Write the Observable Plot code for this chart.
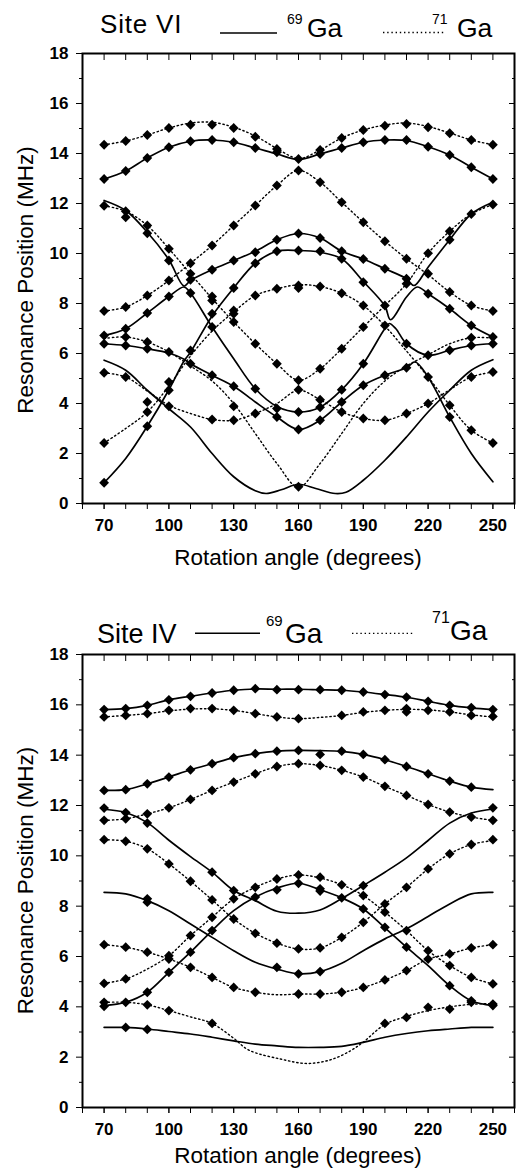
<!DOCTYPE html>
<html><head><meta charset="utf-8">
<script src="https://cdn.jsdelivr.net/npm/d3@7"></script>
<script src="https://cdn.jsdelivr.net/npm/@observablehq/plot@0.6"></script>
<style>
body{margin:0;background:#fff;}
#page{position:relative;width:516px;height:1176px;overflow:hidden;background:#fff;}
.panel{position:absolute;left:0;}
#overlay{position:absolute;left:0;top:0;}
</style></head><body><div id="page">
<div id="p1" class="panel" style="top:0px"></div>
<div id="p2" class="panel" style="top:600px"></div>
<svg id="overlay" width="516" height="1176" font-family="Liberation Sans, Arial, Helvetica, sans-serif" fill="black">
  <text x="100" y="33.3" font-size="26" letter-spacing="0.8">Site VI</text>
  <line x1="220" x2="277" y1="33" y2="33" stroke="black" stroke-width="1.6"/>
  <text x="287" y="24" font-size="14">69</text>
  <text x="307" y="37" font-size="26.5">Ga</text>
  <line x1="383" x2="445" y1="32.5" y2="32.5" stroke="black" stroke-width="1.3" stroke-dasharray="1.4,2.8"/>
  <text x="432" y="23.5" font-size="14">71</text>
  <text x="457" y="37" font-size="26.5">Ga</text>
  <text x="298" y="565" text-anchor="middle" font-size="22.5">Rotation angle (degrees)</text>
  <text transform="translate(33.3,280) rotate(-90)" text-anchor="middle" font-size="22.5">Resonance Position (MHz)</text>

  <text x="97" y="642.7" font-size="27">Site IV</text>
  <line x1="195" x2="260" y1="633.3" y2="633.3" stroke="black" stroke-width="1.6"/>
  <text x="266" y="626" font-size="15">69</text>
  <text x="285" y="643.3" font-size="28">Ga</text>
  <line x1="352" x2="413" y1="633.3" y2="633.3" stroke="black" stroke-width="1.3" stroke-dasharray="1.4,2.8"/>
  <text x="432" y="623.3" font-size="16">71</text>
  <text x="450" y="640" font-size="28">Ga</text>
  <text x="298" y="1162.7" text-anchor="middle" font-size="22.5">Rotation angle (degrees)</text>
  <text transform="translate(33.3,880.5) rotate(-90)" text-anchor="middle" font-size="22.5">Resonance Position (MHz)</text>
</svg>
</div>
<script>
// ---------- axis ticks ----------
const xMajor = [70, 100, 130, 160, 190, 220, 250];
const xMinor = [60, 70, 80, 90, 100, 110, 120, 130, 140, 150, 160, 170, 180, 190, 200, 210, 220, 230, 240, 250, 260];
const yMajor = [0, 2, 4, 6, 8, 10, 12, 14, 16, 18];
const yMinor = [1, 3, 5, 7, 9, 11, 13, 15, 17];

// ---------- Site VI : 69Ga (solid) curves ----------
const vi69 = [
  [[70,12.98],[80,13.3],[90,13.82],[100,14.25],[110,14.49],[120,14.54],[130,14.45],[140,14.22],[150,13.98],[160,13.76],[170,13.98],[180,14.22],[190,14.45],[200,14.54],[210,14.52],[220,14.27],[230,13.94],[240,13.45],[250,12.98]],
  [[70,12.12],[80,11.72],[90,10.85],[100,9.75],[107,8.7],[110,8.92],[120,9.35],[130,9.72],[140,10.09],[150,10.55],[160,10.8],[170,10.62],[180,10.09],[190,9.78],[200,9.39],[210,8.99],[213.5,8.72],[220,9.45],[230,10.55],[240,11.58],[250,12.05]],
  [[70,0.83],[80,1.8],[90,3.09],[100,4.55],[107,5.7],[110,6.05],[120,7.5],[130,8.62],[140,9.61],[150,10.09],[160,10.12],[170,10.05],[180,9.79],[190,8.88],[200,7.9],[202.6,7.35],[210,8.26],[215,8.66],[220,8.39],[230,7.79],[240,7.12],[250,6.66]],
  [[70,6.72],[80,6.99],[90,7.62],[100,8.28],[107,8.66],[110,8.42],[120,7.06],[130,5.79],[140,4.59],[150,3.88],[160,3.66],[170,3.85],[180,4.55],[190,5.59],[200,7.0],[202,7.2],[205,7.0],[210,6.39],[220,5.93],[230,6.13],[240,6.32],[250,6.39]],
  [[70,6.39],[80,6.32],[90,6.19],[100,6.02],[107,5.77],[110,5.59],[120,5.13],[130,4.69],[140,4.06],[150,3.46],[160,2.96],[170,3.33],[180,4.06],[190,4.73],[200,5.13],[210,5.43],[214,5.66],[220,5.06],[230,3.46],[240,2.0],[250,0.87]],
  [[70,5.73],[80,5.33],[90,4.53],[100,3.79],[110,3.06],[120,2.0],[130,1.07],[140,0.51],[145,0.4],[152,0.55],[160,0.77],[168,0.6],[177,0.4],[182,0.45],[190,0.93],[200,1.73],[210,2.66],[220,3.66],[230,4.53],[240,5.33],[250,5.75]]
];
// ---------- Site VI : 71Ga (dotted) curves ----------
const vi71 = [
  [[70,14.35],[80,14.5],[90,14.74],[100,15.02],[110,15.22],[120,15.25],[130,15.05],[140,14.7],[150,14.2],[160,13.8],[170,14.14],[180,14.62],[190,14.94],[200,15.14],[210,15.22],[220,15.08],[230,14.82],[240,14.54],[250,14.35]],
  [[70,7.7],[80,7.86],[90,8.32],[100,8.92],[110,9.61],[120,10.32],[130,11.12],[140,11.92],[150,12.72],[160,13.32],[170,12.85],[180,12.05],[190,11.25],[200,10.49],[210,9.79],[220,9.15],[230,8.46],[240,7.92],[250,7.7]],
  [[70,11.91],[80,11.69],[90,11.12],[100,10.19],[110,9.19],[120,8.2],[130,7.26],[140,6.39],[150,5.59],[160,4.93],[170,5.39],[180,6.19],[190,7.06],[200,7.92],[210,8.79],[220,10.01],[230,10.89],[240,11.58],[250,11.96]],
  [[70,2.42],[80,3.0],[90,3.66],[100,4.7],[110,5.9],[120,6.9],[130,7.66],[140,8.32],[150,8.59],[160,8.75],[170,8.68],[180,8.41],[190,7.92],[200,7.1],[210,6.1],[220,5.06],[230,3.93],[240,2.93],[250,2.42]],
  [[70,5.23],[80,5.06],[90,4.5],[100,3.93],[110,3.6],[120,3.36],[130,3.33],[140,3.6],[150,4.0],[160,4.53],[170,4.15],[180,3.66],[190,3.4],[200,3.33],[210,3.6],[220,4.0],[230,4.55],[240,5.06],[250,5.26]],
  [[70,6.6],[80,6.66],[90,6.46],[100,6.06],[110,5.5],[120,4.9],[130,4.0],[140,2.8],[150,1.6],[160,0.65],[170,1.6],[180,2.8],[190,4.0],[200,4.9],[210,5.5],[220,5.95],[230,6.39],[240,6.63],[250,6.62]]
];
// ---------- Site VI : measured points ----------
const viMarks = [
  [70,[14.35,12.98,11.91,7.7,6.72,6.39,5.23,2.42,0.83]],
  [80,[14.5,13.3,11.69,11.45,7.86,6.99,6.66,6.32,5.06]],
  [90,[14.74,13.82,11.12,10.81,8.32,7.62,6.46,6.19,4.06,3.66,3.09]],
  [100,[15.02,14.25,10.19,9.72,8.92,8.28,6.06,4.86,4.53,3.89]],
  [110,[15.15,14.49,9.61,9.19,8.95,8.42,6.12,5.59]],
  [120,[15.15,14.54,10.32,9.35,8.28,8.12,7.59,7.06,5.13,3.36]],
  [130,[15.02,14.45,11.12,9.72,8.62,7.72,7.59,7.26,4.69,3.89,3.33]],
  [140,[14.67,14.22,11.92,10.05,9.61,8.32,6.39,4.59,3.6]],
  [150,[14.18,14.05,12.72,10.55,10.09,8.59,5.59,3.8,3.46]],
  [160,[13.78,13.32,10.8,10.12,8.72,8.62,4.93,4.55,3.66,2.96,0.67]],
  [170,[14.14,13.98,12.85,10.62,10.09,8.68,5.39,4.15,3.85,3.33]],
  [180,[14.62,14.22,12.05,10.09,9.79,8.41,6.19,4.55,4.06,3.66]],
  [190,[14.94,14.45,11.25,9.78,8.85,7.92,7.06,5.59,4.73,3.4]],
  [200,[15.11,14.54,10.49,9.39,7.92,7.12,5.13,3.33]],
  [210,[15.18,14.54,9.79,8.99,8.79,6.39,5.43,3.6]],
  [220,[15.05,14.27,10.01,9.19,8.39,5.93,5.06,4.0]],
  [230,[14.81,13.94,10.89,10.55,8.46,7.79,6.13,3.93,3.46]],
  [240,[14.54,13.45,11.58,7.92,7.12,6.63,6.32,5.06,2.93]],
  [250,[14.35,12.98,11.96,7.7,6.66,6.39,5.26,2.42]]
];

// ---------- Site IV : 69Ga (solid) curves ----------
const iv69 = [
  [[70,15.81],[80,15.85],[90,15.98],[100,16.2],[110,16.34],[120,16.47],[130,16.58],[140,16.63],[150,16.62],[160,16.62],[170,16.6],[180,16.58],[190,16.51],[200,16.41],[210,16.3],[220,16.14],[230,15.98],[240,15.88],[250,15.81]],
  [[70,12.6],[80,12.63],[90,12.86],[100,13.13],[110,13.42],[120,13.66],[130,13.9],[140,14.06],[150,14.16],[160,14.19],[170,14.18],[180,14.15],[190,14.03],[200,13.82],[210,13.55],[220,13.26],[230,12.97],[240,12.73],[250,12.63]],
  [[70,11.85],[80,11.72],[90,11.32],[100,10.62],[110,9.97],[120,9.35],[130,8.62],[140,8.22],[150,7.8],[160,7.72],[170,7.85],[180,8.3],[190,8.82],[200,9.35],[210,9.92],[220,10.61],[230,11.3],[240,11.7],[250,11.86]],
  [[70,4.05],[80,4.18],[90,4.58],[100,5.37],[110,6.17],[120,7.03],[130,7.82],[140,8.36],[150,8.72],[160,8.91],[170,8.65],[180,8.33],[190,7.89],[200,7.14],[210,6.37],[220,5.64],[230,4.84],[240,4.24],[250,4.05]],
  [[70,8.55],[80,8.49],[90,8.22],[100,7.82],[110,7.29],[120,6.76],[130,6.23],[140,5.77],[150,5.5],[160,5.31],[170,5.4],[180,5.73],[190,6.23],[200,6.7],[210,7.1],[220,7.59],[230,8.09],[240,8.49],[250,8.55]],
  [[70,3.18],[80,3.18],[90,3.12],[100,3.02],[110,2.92],[120,2.79],[130,2.65],[140,2.52],[150,2.45],[160,2.39],[170,2.39],[180,2.43],[190,2.59],[200,2.79],[210,2.94],[220,3.05],[230,3.12],[240,3.18],[250,3.18]]
];
// ---------- Site IV : 71Ga (dotted) curves ----------
const iv71 = [
  [[70,15.52],[80,15.58],[90,15.65],[100,15.76],[110,15.83],[120,15.84],[130,15.78],[140,15.65],[150,15.52],[160,15.45],[170,15.5],[180,15.58],[190,15.7],[200,15.78],[210,15.82],[220,15.8],[230,15.72],[240,15.6],[250,15.52]],
  [[70,11.41],[80,11.47],[90,11.67],[100,11.91],[110,12.24],[120,12.6],[130,12.93],[140,13.26],[150,13.55],[160,13.66],[170,13.59],[180,13.4],[190,13.13],[200,12.76],[210,12.4],[220,12.04],[230,11.74],[240,11.54],[250,11.41]],
  [[70,10.64],[80,10.58],[90,10.28],[100,9.68],[110,8.99],[120,8.25],[130,7.49],[140,6.92],[150,6.53],[160,6.3],[170,6.34],[180,6.76],[190,7.36],[200,8.09],[210,8.75],[220,9.48],[230,10.08],[240,10.45],[250,10.61]],
  [[70,4.93],[80,5.11],[90,5.5],[100,6.03],[110,6.83],[120,7.56],[130,8.29],[140,8.75],[150,9.08],[160,9.24],[170,9.12],[180,8.85],[190,8.42],[200,7.76],[210,7.03],[220,6.23],[230,5.64],[240,5.17],[250,4.91]],
  [[70,6.47],[80,6.37],[90,6.17],[100,5.9],[110,5.57],[120,5.17],[130,4.77],[140,4.58],[150,4.48],[160,4.51],[170,4.51],[180,4.58],[190,4.77],[200,5.07],[210,5.44],[220,5.9],[230,6.1],[240,6.34],[250,6.47]],
  [[70,4.18],[80,4.18],[90,4.08],[100,3.85],[110,3.6],[120,3.34],[130,2.75],[137,2.28],[152,1.92],[164,1.75],[175,1.9],[184,2.25],[190,2.6],[200,3.3],[210,3.62],[220,3.85],[230,4.0],[240,4.1],[250,4.13]]
];
// ---------- Site IV : measured points ----------
const ivMarks = [
  [70,[15.81,15.52,12.6,11.9,11.41,10.64,6.47,4.93,4.18,4.02]],
  [80,[15.85,15.58,12.63,11.72,11.47,10.58,6.37,5.11,4.18,3.18]],
  [90,[15.98,15.65,12.86,11.67,11.3,10.28,8.29,8.16,6.17,4.58,4.08,3.1]],
  [100,[16.2,15.78,13.13,11.91,9.68,6.03,5.9,5.37,3.85]],
  [110,[16.34,15.85,13.42,12.24,8.99,6.83,6.17,5.57]],
  [120,[16.47,15.85,13.66,12.6,9.35,8.25,7.56,7.03,5.17,3.34]],
  [130,[16.58,15.78,13.9,12.93,8.62,8.29,7.49,4.77]],
  [140,[16.64,15.65,14.06,13.26,8.75,8.36,6.92,4.58]],
  [150,[16.6,15.52,14.16,13.55,9.08,8.65,6.53,5.57]],
  [160,[16.6,15.45,14.19,13.66,9.24,8.91,6.3,5.31,4.51]],
  [170,[16.6,14.03,13.59,9.15,8.69,8.6,6.34,5.4,4.51]],
  [180,[16.58,15.58,14.16,13.4,8.85,8.33,6.76,4.58]],
  [190,[16.51,15.72,14.03,13.13,8.82,8.42,7.89,7.36,4.77]],
  [200,[16.41,15.78,13.82,12.76,8.09,7.76,7.16,5.07,3.34]],
  [210,[16.31,15.85,15.72,13.55,12.4,8.75,7.03,6.37,5.44,3.58]],
  [220,[16.14,15.78,13.26,12.04,9.48,6.23,5.9,3.98]],
  [230,[15.98,15.72,12.97,11.74,10.08,6.1,5.64,4.84,3.91]],
  [240,[15.89,15.58,12.73,11.54,10.45,6.34,5.17,4.24,4.18]],
  [250,[15.81,15.54,11.91,11.41,10.64,6.47,4.91,4.11,4.05]]
];

// ---------- build ----------
const rows = curves => curves.flatMap((c, k) => c.map(([a, v]) => ({a, v, k})));
const pts = marks => marks.flatMap(([a, vs]) => vs.map(v => ({a, v})));

function panel(solid, dotted, marks, height, marginTop, marginBottom) {
  const font = {fontSize: 17, fontWeight: "bold"};
  return Plot.plot({
    width: 516, height, marginLeft: 82, marginRight: 2, marginTop, marginBottom,
    style: {fontFamily: "Liberation Sans, Arial, Helvetica, sans-serif", color: "black", background: "white", overflow: "visible"},
    x: {domain: [60, 260]},
    y: {domain: [0, 18]},
    marks: [
      Plot.line(rows(solid), {x: "a", y: "v", z: "k", curve: "catmull-rom", stroke: "black", strokeWidth: 1.7}),
      Plot.line(rows(dotted), {x: "a", y: "v", z: "k", curve: "catmull-rom", stroke: "black", strokeWidth: 1.4, strokeDasharray: "1.4,2.8"}),
      Plot.dot(pts(marks), {x: "a", y: "v", symbol: "square", rotate: 45, r: 3.9, fill: "black", stroke: "none"}),
      Plot.frame({stroke: "black", strokeWidth: 2}),
      Plot.axisX({ticks: xMajor, anchor: "bottom", tickSize: 6, tickPadding: 9, ...font, label: null}),
      Plot.axisX({ticks: xMinor, anchor: "bottom", tickSize: 6, fill: "none", label: null}),
      Plot.axisX({ticks: xMinor, anchor: "top", tickSize: -6, fill: "none", label: null}),
      Plot.axisY({ticks: yMajor, anchor: "left", tickSize: 6, tickPadding: 8, ...font, label: null}),
      Plot.axisY({ticks: yMinor, anchor: "left", tickSize: 3, fill: "none", label: null}),
      Plot.axisY({ticks: yMajor, anchor: "right", tickSize: -6, fill: "none", label: null}),
      Plot.axisY({ticks: yMinor, anchor: "right", tickSize: -3, fill: "none", label: null})
    ]
  });
}

document.getElementById("p1").append(panel(vi69, vi71, viMarks, 600, 53, 97));
document.getElementById("p2").append(panel(iv69, iv71, ivMarks, 576, 54, 69));
</script>
</body></html>
